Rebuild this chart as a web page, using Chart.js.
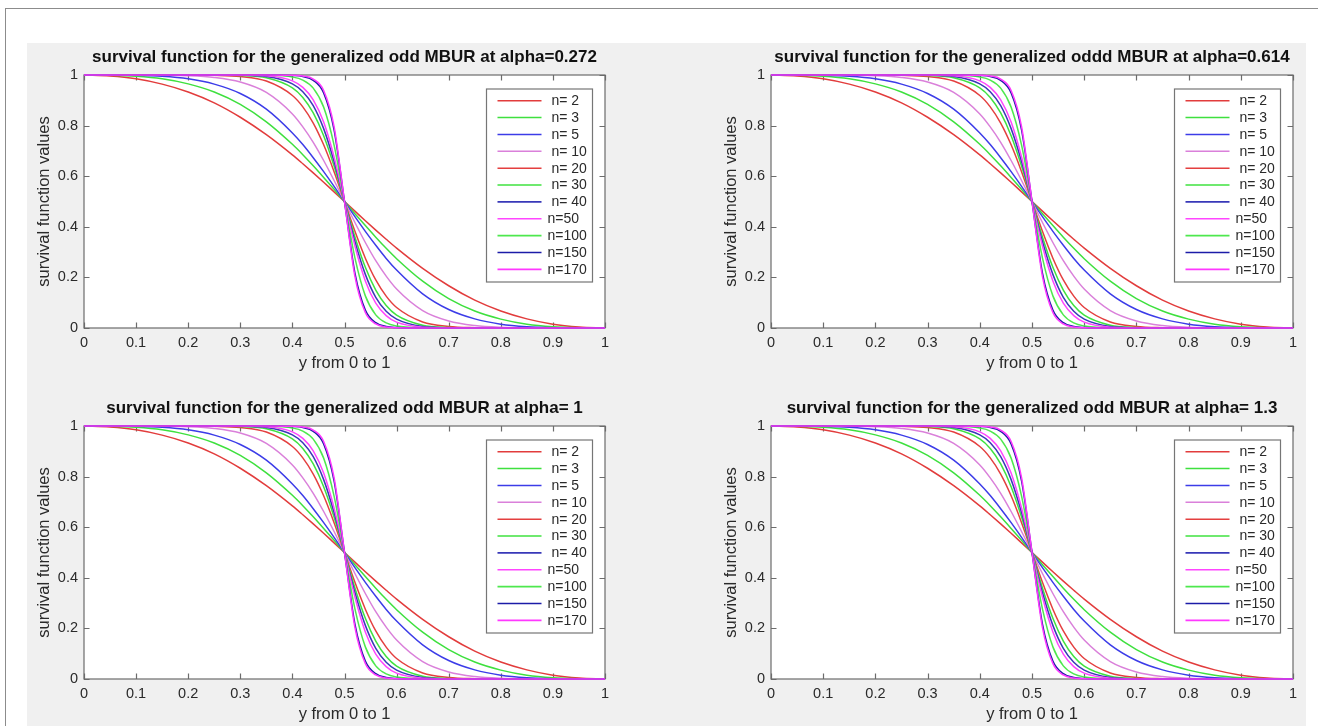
<!DOCTYPE html>
<html>
<head>
<meta charset="utf-8">
<script src="https://cdn.jsdelivr.net/npm/chart.js@4.4.1/dist/chart.umd.min.js"></script>
<style>
  html, body { margin: 0; padding: 0; background: #ffffff; overflow: hidden; }
  #fig { position: relative; width: 1318px; height: 726px; overflow: hidden; background: #ffffff; }
  #frame { position: absolute; left: 5px; top: 8px; width: 1330px; height: 740px;
           border-top: 1.5px solid #8c8c8c; border-left: 1.5px solid #8c8c8c; }
  #panelbg { position: absolute; left: 27px; top: 43px; width: 1279px; height: 683px; background: #f0f0f0; }
  canvas { position: absolute; }
</style>
</head>
<body>
<div id="fig">
  <div id="frame"></div>
  <div id="panelbg"></div>
  <canvas id="p0"></canvas>
  <canvas id="p1"></canvas>
  <canvas id="p2"></canvas>
  <canvas id="p3"></canvas>
</div>
<script>
// sample positions along y in [0, 1]
const yPoints = [0, 0.05, 0.1, 0.15, 0.2, 0.25, 0.3, 0.35, 0.4, 0.42, 0.44, 0.46, 0.48, 0.5,
                 0.52, 0.54, 0.56, 0.58, 0.6, 0.65, 0.7, 0.75, 0.8, 0.85, 0.9, 0.95, 1];

// survival function values for each n
const surv_n2   = [1, 0.996, 0.985, 0.964, 0.933, 0.890, 0.833, 0.764, 0.684, 0.649, 0.613, 0.576, 0.538, 0.5, 0.462, 0.424, 0.387, 0.351, 0.316, 0.236, 0.167, 0.110, 0.067, 0.036, 0.015, 0.004, 0];
const surv_n3   = [1, 0.999, 0.995, 0.985, 0.965, 0.933, 0.884, 0.815, 0.726, 0.685, 0.641, 0.595, 0.548, 0.5, 0.452, 0.405, 0.359, 0.315, 0.274, 0.185, 0.116, 0.067, 0.035, 0.015, 0.005, 0.001, 0];
const surv_n5   = [1, 1, 0.999, 0.995, 0.985, 0.964, 0.927, 0.865, 0.771, 0.725, 0.673, 0.618, 0.560, 0.5, 0.440, 0.382, 0.327, 0.275, 0.229, 0.135, 0.073, 0.036, 0.015, 0.005, 0.001, 0, 0];
const surv_n10  = [1, 1, 1, 0.999, 0.997, 0.990, 0.972, 0.931, 0.846, 0.795, 0.734, 0.662, 0.583, 0.5, 0.417, 0.338, 0.266, 0.205, 0.154, 0.069, 0.028, 0.010, 0.003, 0.001, 0, 0, 0];
const surv_n20  = [1, 1, 1, 1, 1, 0.999, 0.994, 0.976, 0.919, 0.874, 0.810, 0.724, 0.618, 0.5, 0.382, 0.276, 0.190, 0.126, 0.081, 0.024, 0.006, 0.001, 0, 0, 0, 0, 0];
const surv_n30  = [1, 1, 1, 1, 1, 1, 0.998, 0.989, 0.949, 0.911, 0.850, 0.760, 0.640, 0.5, 0.360, 0.240, 0.150, 0.089, 0.051, 0.011, 0.002, 0, 0, 0, 0, 0, 0];
const surv_n40  = [1, 1, 1, 1, 1, 1, 0.999, 0.994, 0.965, 0.934, 0.879, 0.788, 0.658, 0.5, 0.342, 0.212, 0.121, 0.066, 0.035, 0.006, 0.001, 0, 0, 0, 0, 0, 0];
const surv_n50  = [1, 1, 1, 1, 1, 1, 1, 0.997, 0.977, 0.951, 0.902, 0.814, 0.676, 0.5, 0.324, 0.186, 0.098, 0.049, 0.023, 0.003, 0, 0, 0, 0, 0, 0, 0];
const surv_n100 = [1, 1, 1, 1, 1, 1, 1, 0.999, 0.992, 0.980, 0.948, 0.873, 0.723, 0.5, 0.277, 0.127, 0.052, 0.020, 0.008, 0.001, 0, 0, 0, 0, 0, 0, 0];
const surv_n150 = [1, 1, 1, 1, 1, 1, 1, 1, 0.998, 0.994, 0.979, 0.929, 0.783, 0.5, 0.217, 0.071, 0.021, 0.006, 0.002, 0, 0, 0, 0, 0, 0, 0, 0];
const surv_n170 = [1, 1, 1, 1, 1, 1, 1, 1, 0.999, 0.996, 0.984, 0.939, 0.796, 0.5, 0.204, 0.061, 0.016, 0.004, 0.001, 0, 0, 0, 0, 0, 0, 0, 0];

const seriesLabels = [' n= 2', ' n= 3', ' n= 5', ' n= 10', ' n= 20', ' n= 30', ' n= 40', 'n=50', 'n=100', 'n=150', 'n=170'];
const seriesColors = ['#e23c3c', '#3ee03e', '#3c3ce8', '#da80da', '#e43f3f', '#3fe23f', '#3838b8', '#ff45ff', '#4ee84e', '#1c1ca8', '#ff38ff'];
const seriesValues = [surv_n2, surv_n3, surv_n5, surv_n10, surv_n20, surv_n30, surv_n40, surv_n50, surv_n100, surv_n150, surv_n170];

const panelTitles = [
  'survival function for the generalized odd MBUR at alpha=0.272',
  'survival function for the generalized oddd MBUR at alpha=0.614',
  'survival function for the generalized odd MBUR at alpha= 1',
  'survival function for the generalized odd MBUR at alpha= 1.3'
];
const xTicksStep = 0.1;
const yTicksStep = 0.2;
const xAxisTitle = 'y from 0 to 1';
const yAxisTitle = 'survival function values';

// plot-area placement of each panel on the page
const plotLeft = [84, 771, 84, 771];
const plotTop = [75, 75, 426, 426];
const plotWidth = [521, 522, 521, 522];
const plotHeight = 253;
const sideW = 60, titleH = 32, bottomH = 58;

const FONT = "'Liberation Sans', Arial, Helvetica, sans-serif";
const TEXT = '#2a2a2a';
const AXIS = '#6c6c6c';
const TITLE_SIZE = 17;
const LABEL_SIZE = 16.5;
const TICK_SIZE = 14.5;

// tick text like 0, 0.1, ..., 1
const tickText = v => String(Number(v.toFixed(2)));

// white axes background
const axesBackground = {
  id: 'axesBackground',
  beforeDraw(chart) {
    const { ctx, chartArea: a } = chart;
    ctx.save();
    ctx.fillStyle = '#ffffff';
    ctx.fillRect(a.left, a.top, a.width, a.height);
    ctx.restore();
  }
};

// axes box with inward tick marks on all four sides
const axesBox = {
  id: 'axesBox',
  beforeDatasetsDraw(chart) {
    const { ctx, chartArea: a, scales } = chart;
    const L = 5.5;
    ctx.save();
    ctx.strokeStyle = AXIS;
    ctx.lineWidth = 1.2;
    ctx.beginPath();
    scales.x.ticks.forEach(t => {
      const px = Math.round(scales.x.getPixelForValue(t.value)) + 0.5;
      ctx.moveTo(px, a.bottom); ctx.lineTo(px, a.bottom - L);
      ctx.moveTo(px, a.top); ctx.lineTo(px, a.top + L);
    });
    scales.y.ticks.forEach(t => {
      const py = Math.round(scales.y.getPixelForValue(t.value)) + 0.5;
      ctx.moveTo(a.left, py); ctx.lineTo(a.left + L, py);
      ctx.moveTo(a.right, py); ctx.lineTo(a.right - L, py);
    });
    ctx.stroke();
    ctx.strokeRect(a.left, a.top, a.width, a.height);
    ctx.restore();
  }
};

// boxed legend inside the upper-right of the axes
const boxLegend = {
  id: 'boxLegend',
  afterDatasetsDraw(chart) {
    const { ctx, chartArea: a } = chart;
    const ds = chart.data.datasets;
    const w = 106, h = 193;
    const left = a.right - 12.5 - w, top = a.top + 14;
    const rowH = 16.87, firstRow = 11.7;
    ctx.save();
    ctx.fillStyle = '#ffffff';
    ctx.fillRect(left, top, w, h);
    ctx.strokeStyle = '#767676';
    ctx.lineWidth = 1.2;
    ctx.strokeRect(left, top, w, h);
    ctx.font = '14px ' + FONT;
    ctx.textBaseline = 'middle';
    ctx.textAlign = 'left';
    ds.forEach((d, i) => {
      const cy = top + firstRow + i * rowH;
      ctx.strokeStyle = d.borderColor;
      ctx.lineWidth = 1.6;
      ctx.beginPath();
      ctx.moveTo(left + 11, cy);
      ctx.lineTo(left + 55, cy);
      ctx.stroke();
      ctx.fillStyle = TEXT;
      ctx.fillText(d.label, left + 61, cy + 0.5);
    });
    ctx.restore();
  }
};

function buildPanel(idx) {
  const canvas = document.getElementById('p' + idx);
  const cw = plotWidth[idx] + 2 * sideW;
  const chh = titleH + plotHeight + bottomH;
  canvas.width = cw;
  canvas.height = chh;
  canvas.style.width = cw + 'px';
  canvas.style.height = chh + 'px';
  canvas.style.left = (plotLeft[idx] - sideW) + 'px';
  canvas.style.top = (plotTop[idx] - titleH) + 'px';

  const datasets = seriesValues.map((vals, i) => ({
    label: seriesLabels[i],
    data: yPoints.map((xv, j) => ({ x: xv, y: vals[j] })),
    borderColor: seriesColors[i],
    backgroundColor: seriesColors[i],
    borderWidth: 1.5,
    pointRadius: 0,
    fill: false,
    cubicInterpolationMode: 'monotone',
    order: seriesValues.length - i,
    clip: 4
  }));

  const titleLine = TITLE_SIZE * 1.2;
  new Chart(canvas, {
    type: 'line',
    data: { datasets },
    options: {
      responsive: false,
      animation: false,
      devicePixelRatio: 1,
      layout: { padding: 0 },
      plugins: {
        legend: { display: false },
        tooltip: { enabled: false },
        title: {
          display: true,
          text: panelTitles[idx],
          color: '#111111',
          font: { family: FONT, size: TITLE_SIZE, weight: 'bold' },
          padding: { top: 4.5, bottom: titleH - titleLine - 4.5 }
        }
      },
      scales: {
        x: {
          type: 'linear', position: 'bottom', min: 0, max: 1,
          grid: { display: false, drawTicks: false },
          border: { display: false },
          ticks: { stepSize: xTicksStep, autoSkip: false, maxRotation: 0, padding: 6,
                   color: TEXT, font: { family: FONT, size: TICK_SIZE }, callback: tickText },
          title: { display: true, text: xAxisTitle, color: TEXT,
                   font: { family: FONT, size: LABEL_SIZE }, padding: { top: 0, bottom: 13 } },
          afterFit(scale) { scale.height = bottomH; }
        },
        y: {
          type: 'linear', position: 'left', min: 0, max: 1,
          grid: { display: false, drawTicks: false },
          border: { display: false },
          ticks: { stepSize: yTicksStep, padding: 6, color: TEXT,
                   font: { family: FONT, size: TICK_SIZE }, callback: tickText },
          title: { display: true, text: yAxisTitle, color: TEXT,
                   font: { family: FONT, size: LABEL_SIZE }, padding: { top: 11, bottom: 0 } },
          afterFit(scale) { scale.width = sideW; }
        },
        yRight: {
          type: 'linear', position: 'right', min: 0, max: 1,
          grid: { display: false, drawTicks: false },
          border: { display: false },
          ticks: { display: false },
          afterFit(scale) { scale.width = sideW; }
        }
      }
    },
    plugins: [axesBackground, axesBox, boxLegend]
  });
}

[0, 1, 2, 3].forEach(buildPanel);
</script>
</body>
</html>
